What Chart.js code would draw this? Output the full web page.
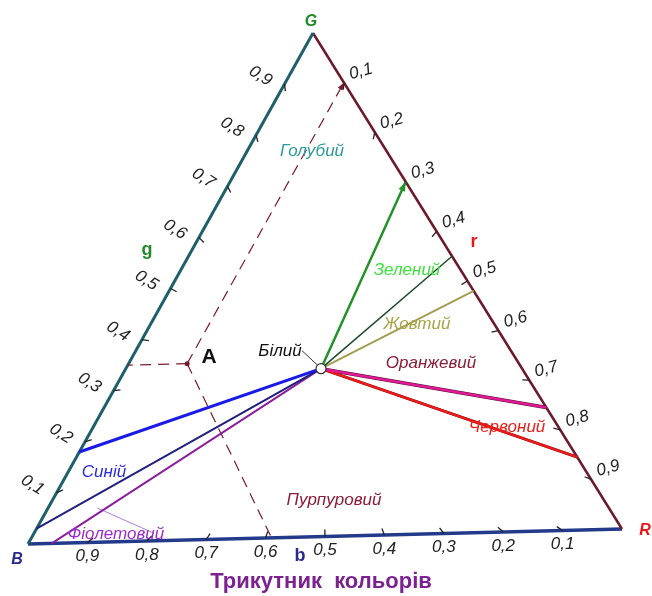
<!DOCTYPE html>
<html><head><meta charset="utf-8">
<script src="https://cdn.jsdelivr.net/npm/chart.js@4.4.0/dist/chart.umd.min.js"></script>
<style>html,body{margin:0;padding:0;background:#fff}#wrap{width:652px;height:596px;position:relative}</style>
</head><body><div id="wrap"><canvas id="c"></canvas></div>
<script>
// ---------------- DATA (ternary values r, g, b) ----------------
const tickValues = [0.1,0.2,0.3,0.4,0.5,0.6,0.7,0.8,0.9];
const tickLabels = ['0,1','0,2','0,3','0,4','0,5','0,6','0,7','0,8','0,9'];
const whitePoint = [1/3, 1/3, 1/3];
// rays from white point to the G–R edge (value = r at the edge)
const rightRayR = [0.30, 0.45, 0.52, 0.755, 0.855];
// rays from white point to the B–G edge (value = g at the edge)
const leftRayG = [0.18, 0.03];
// rays from white point to the B–R edge (value = b at the edge)
const bottomRayB = [0.96];
// point A and its read-off values
const pointA = [0.10, 0.35, 0.55];
const pointAReadG = 0.35, pointAReadR = 0.10, pointAReadB = 0.59;
// leader line of "Фіолетовий"
const violetLeader = [[0.084, 0.068, 0.848], [0.205, 0.015, 0.78]];
const colourNames = ['Голубий','Зелений','Жовтий','Оранжевий','Червоний','Пурпуровий','Синій','Фіолетовий'];
const whiteName = 'Білий';
const titleText = 'Трикутник  кольорів';

// ---------------- LAYOUT / STYLE ----------------
const V = {R:{x:622,y:529}, G:{x:313,y:33}, B:{x:28,y:544}};
function T(t){ const [r,g,b]=t; return {x:r*V.R.x+g*V.G.x+b*V.B.x, y:r*V.R.y+g*V.G.y+b*V.B.y}; }
// [colour, width, underlay colour, underlay width]
const rightRayStyle = [['#23922a',2.5],['#1d4a2c',1.5],['#a39d4f',2],['#e0199b',2.6,'#5a1226',3.5],['#ec1a1a',2.3,'#7a1010',2.9]];
const leftRayStyle = [['#1a1ae6',3],['#20207e',2]];
const bottomRayStyle = [['#8b1f9c',2]];
const nameStyle = [
  {c:'#2f9a9a',x:312,y:151},{c:'#3ee03e',x:407,y:270},{c:'#a8a448',x:417,y:324},
  {c:'#8a1c36',x:431,y:363},{c:'#e8201a',x:507,y:427},{c:'#8a1c36',x:334,y:500},
  {c:'#2a2ae0',x:104,y:472},{c:'#9b2dc8',x:116,y:534}
];

const seg = (a,b,color,width,extra={}) => Object.assign({
  type:'line', data:[T(a),T(b)], borderColor:color, borderWidth:width,
  pointRadius:0, showLine:true, fill:false, tension:0
}, extra);

const datasets = [];
// edges
datasets.push(seg([0,0,1],[0,1,0],'#1f5f6a',3,{order:5}));
datasets.push(seg([0,1,0],[1,0,0],'#6a1a2a',2.5,{order:5}));
datasets.push(seg([0,0,1],[1,0,0],'#233a8a',3.5,{order:5}));
// rays
rightRayR.forEach((r,i)=>{
  const s = rightRayStyle[i];
  if (s[2]) datasets.push(seg(whitePoint,[r,1-r,0],s[2],s[3],{order:4}));
  datasets.push(seg(whitePoint,[r,1-r,0],s[0],s[1],{order:3}));
});
leftRayG.forEach((g,i)=>datasets.push(seg(whitePoint,[0,g,1-g],leftRayStyle[i][0],leftRayStyle[i][1],{order:3})));
bottomRayB.forEach((b,i)=>datasets.push(seg(whitePoint,[1-b,0,b],bottomRayStyle[i][0],bottomRayStyle[i][1],{order:3})));
// leader
datasets.push(seg(violetLeader[0],violetLeader[1],'#b07ee0',1,{order:3}));
// dashed construction lines from A
const dash = {borderDash:[11,7], order:3};
datasets.push(seg(pointA,[0,pointAReadG,1-pointAReadG],'#7a1a2a',1.2,dash));
datasets.push(seg(pointA,[pointAReadR,1-pointAReadR,0],'#7a1a2a',1.2,dash));
datasets.push(seg(pointA,[1-pointAReadB,0,pointAReadB],'#7a1a2a',1.2,dash));
// points
datasets.push({type:'scatter', data:[T(pointA)], pointRadius:2.5, pointBackgroundColor:'#7a1a2a', pointBorderWidth:0, order:1});
datasets.push({type:'scatter', data:[T(whitePoint)], pointRadius:5, pointBackgroundColor:'#ffffff', pointBorderColor:'#333', pointBorderWidth:1.2, order:0});

const textPlugin = {
  id:'tern',
  afterDatasetsDraw(chart){
    const ctx = chart.ctx, sx = chart.scales.x, sy = chart.scales.y;
    const P = p => ({x:sx.getPixelForValue(p.x), y:sy.getPixelForValue(p.y)});
    const W = P(T(whitePoint));
    ctx.save();
    // ticks
    const tick = (t)=>{
      const p = P(T(t));
      const dx = W.x-p.x, dy = W.y-p.y, L = Math.hypot(dx,dy);
      ctx.beginPath(); ctx.moveTo(p.x,p.y); ctx.lineTo(p.x+dx/L*7, p.y+dy/L*7);
      ctx.strokeStyle='#222'; ctx.lineWidth=1.3; ctx.stroke();
      return p;
    };
    ctx.fillStyle='#222'; ctx.font='italic 17px "Liberation Sans", Arial, sans-serif';
    ctx.textAlign='center'; ctx.textBaseline='middle';
    tickValues.forEach((v,i)=>{
      // left edge (g)
      let p = tick([0,v,1-v]);
      ctx.save(); ctx.translate(p.x-24,p.y-8); ctx.rotate(32*Math.PI/180); ctx.fillText(tickLabels[i],0,0); ctx.restore();
      // right edge (r)
      p = tick([v,1-v,0]);
      ctx.save(); ctx.translate(p.x+17,p.y-11); ctx.rotate(-15*Math.PI/180); ctx.fillText(tickLabels[i],0,0); ctx.restore();
      // bottom edge (b)
      p = tick([1-v,0,v]);
      ctx.fillText(tickLabels[i],p.x,p.y+14);
    });
    // arrowheads
    const arrow = (from,to,color,size)=>{
      const a=P(T(from)), b=P(T(to)); const ang=Math.atan2(b.y-a.y,b.x-a.x);
      ctx.beginPath(); ctx.moveTo(b.x,b.y);
      ctx.lineTo(b.x-size*Math.cos(ang-0.35), b.y-size*Math.sin(ang-0.35));
      ctx.lineTo(b.x-size*Math.cos(ang+0.35), b.y-size*Math.sin(ang+0.35));
      ctx.closePath(); ctx.fillStyle=color; ctx.fill();
    };
    arrow(whitePoint,[rightRayR[0],1-rightRayR[0],0],'#23922a',10);
    arrow(pointA,[pointAReadR,1-pointAReadR,0],'#7a1a2a',8);
    // leader for white
    ctx.beginPath(); ctx.moveTo(W.x-19,W.y-18); ctx.lineTo(W.x-4,W.y-4);
    ctx.strokeStyle='#333'; ctx.lineWidth=1; ctx.stroke();
    // colour names
    ctx.font='italic 17px "Liberation Sans", Arial, sans-serif';
    colourNames.forEach((n,i)=>{ const s=nameStyle[i]; ctx.fillStyle=s.c; ctx.fillText(n,s.x,s.y); });
    ctx.fillStyle='#111'; ctx.fillText(whiteName, W.x-41, W.y-17);
    // A
    const A = P(T(pointA));
    ctx.font='bold 21px "Liberation Sans", Arial, sans-serif'; ctx.fillStyle='#111';
    ctx.fillText('A', A.x+22, A.y-6);
    // vertices
    ctx.font='bold italic 16px "Liberation Sans", Arial, sans-serif';
    const g=P(V.G), bb=P(V.B), rr=P(V.R);
    ctx.fillStyle='#1f8a2a'; ctx.fillText('G', g.x-2, g.y-11);
    ctx.fillStyle='#2a2a8a'; ctx.fillText('B', bb.x-11, bb.y+16);
    ctx.fillStyle='#e81818'; ctx.fillText('R', rr.x+23, rr.y+2);
    // axis letters
    ctx.font='bold 18px "Liberation Sans", Arial, sans-serif';
    ctx.fillStyle='#1f8a2a'; ctx.fillText('g',147,250);
    ctx.fillStyle='#e81818'; ctx.fillText('r',474,242);
    ctx.fillStyle='#2a2a8a'; ctx.fillText('b',300,556);
    // title
    ctx.font='bold 22px "Liberation Sans", Arial, sans-serif';
    ctx.fillStyle='#7b2190'; ctx.fillText(titleText,321,582);
    ctx.restore();
  }
};

new Chart(document.getElementById('c'),{
  type:'scatter',
  data:{datasets},
  options:{
    responsive:true, maintainAspectRatio:false, animation:false, events:[],
    layout:{padding:0, autoPadding:false},
    scales:{
      x:{type:'linear',min:0,max:652,display:false},
      y:{type:'linear',min:0,max:596,reverse:true,display:false}
    },
    plugins:{legend:{display:false},tooltip:{enabled:false},title:{display:false}}
  },
  plugins:[textPlugin]
});
</script></body></html>
